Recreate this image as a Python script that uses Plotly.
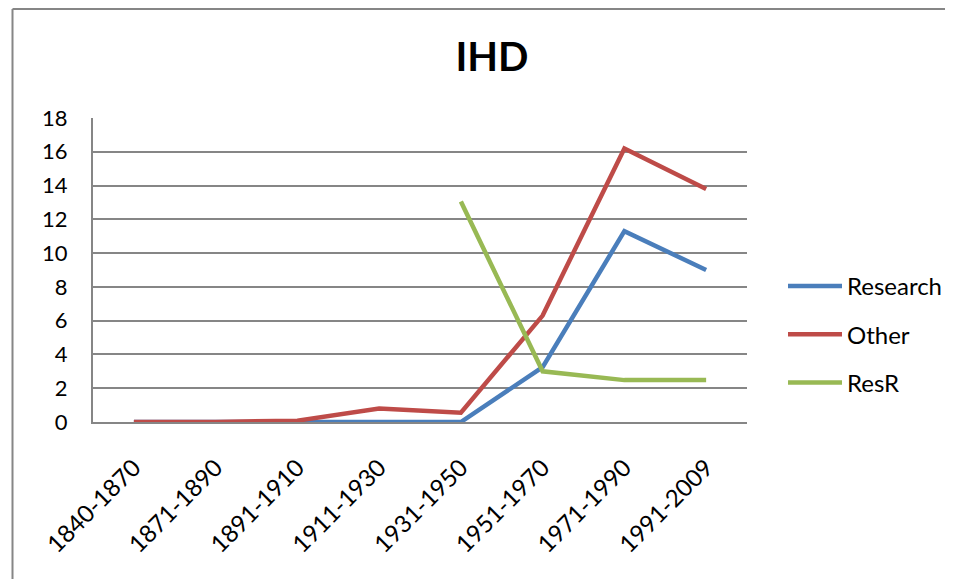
import plotly.graph_objects as go

categories = ["1840-1870", "1871-1890", "1891-1910", "1911-1930",
              "1931-1950", "1951-1970", "1971-1990", "1991-2009"]
research = [0, 0, 0, 0, 0, 3.25, 11.3, 9.0]
other = [0, 0, 0.08, 0.8, 0.55, 6.3, 16.2, 13.8]
resr = [None, None, None, None, 13.05, 3.0, 2.48, 2.48]
y_ticks = [0, 2, 4, 6, 8, 10, 12, 14, 16, 18]

OFF = 8  # page body margin
W, H = 956, 579
L, R, T, B = 93 - OFF, 747 - OFF, 118 - OFF, 422 - OFF
pw, ph = R - L, B - T

FONT = "Lato, 'Open Sans', sans-serif"
GRAY = "#868686"

fig = go.Figure()
series = [("Research", research, "#4A7EBB"),
          ("Other", other, "#BE4B48"),
          ("ResR", resr, "#98B954")]
for name, vals, col in series:
    fig.add_trace(go.Scatter(
        x=categories, y=vals, name=name, mode="lines",
        line=dict(color=col, width=4.5), legendgroup=name,
        connectgaps=False))


def px_x(p):
    return (p - OFF - L) / pw


def px_y(p):
    return (B - (p - OFF)) / ph


# chart-area frame (left and top edges; the rest falls outside the picture)
frame = dict(color=GRAY, width=2)
fig.add_shape(type="line", xref="paper", yref="paper",
              x0=px_x(12.5), x1=px_x(12.5), y0=px_y(OFF + 1), y1=px_y(590),
              line=frame, layer="below")
fig.add_shape(type="line", xref="paper", yref="paper",
              x0=px_x(12.5), x1=px_x(945), y0=px_y(OFF + 1), y1=px_y(OFF + 1),
              line=frame, layer="below")

fig.update_layout(
    width=W, height=H,
    margin=dict(l=L, r=W - R, t=T, b=H - B, pad=0),
    paper_bgcolor="white", plot_bgcolor="white",
    font=dict(family=FONT, size=22, color="black"),
    title=dict(text="<b>IHD</b>", x=(492 - OFF) / W, xref="container",
               xanchor="center", y=1 - (57 - OFF) / H, yref="container",
               yanchor="middle",
               font=dict(family=FONT, size=40, color="black")),
    xaxis=dict(type="category", categoryorder="array", categoryarray=categories,
               range=[-0.5, len(categories) - 0.5],
               tickangle=-45, showgrid=False, showline=True, linecolor=GRAY,
               linewidth=2, ticks="", tickfont=dict(family=FONT, size=24),
               ticklabelstandoff=20, zeroline=False),
    yaxis=dict(range=[0, 18], tickvals=y_ticks, showgrid=True, gridcolor=GRAY,
               gridwidth=1.5, showline=True, linecolor=GRAY, linewidth=2,
               ticks="", zeroline=False, tickfont=dict(family=FONT, size=22),
               ticklabelstandoff=19),
    legend=dict(x=px_x(783), xanchor="left", y=px_y(264), yanchor="top",
                traceorder="grouped", tracegroupgap=14,
                font=dict(family=FONT, size=24), itemwidth=54,
                bgcolor="rgba(0,0,0,0)"),
    showlegend=True,
)

fig.write_html("out.html")
